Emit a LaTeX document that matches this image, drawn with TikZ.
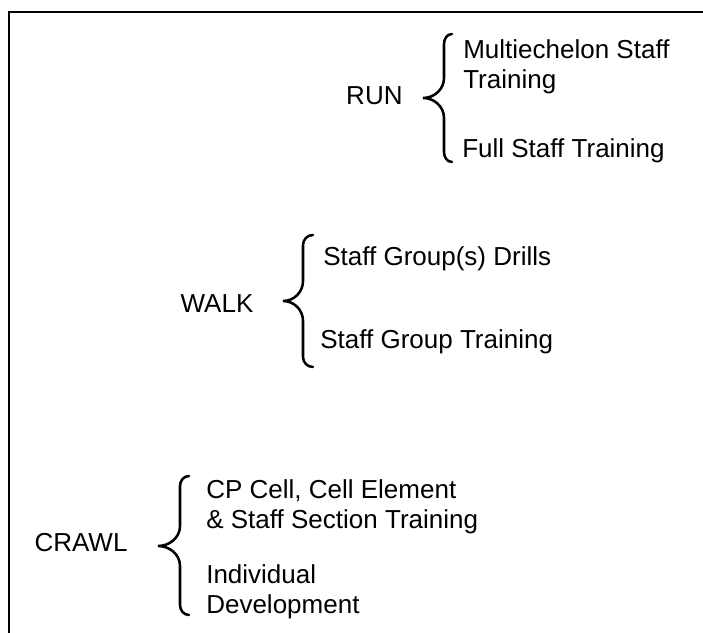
\documentclass[tikz,border=0pt]{standalone}
\usepackage{fontspec}
\setmainfont{Liberation Sans}
\usepackage{tikz}

\tikzset{
    stage/.style={anchor=base, inner sep=0pt},
    item/.style={anchor=north west, align=left, inner sep=0pt},
    curly/.style={line width=1.8pt, line cap=round}
}

\begin{document}
\begin{tikzpicture}[font=\fontsize{18.5}{21.3}\selectfont]

\useasboundingbox (0,0) rectangle (17.575,15.825);

% Frame (left and top edge only)
\draw[line width=2.1pt] (0.225,0) -- (0.225,15.525) -- (17.575,15.525);

% Stage labels
\node[stage] (run)   at (9.36,13.2)  {RUN};
\node[stage] (walk)  at (5.425,8.0)  {WALK};
\node[stage] (crawl) at (2.025,2.025) {CRAWL};

% Training items
\node[item] (multi) at (11.575,14.85) {Multiechelon Staff\\Training};
\node[item] (full)  at (11.55,12.375) {Full Staff Training};
\node[item] (drill) at (8.075,9.675)  {Staff Group(s) Drills};
\node[item] (group) at (8.0,7.6)      {Staff Group Training};
\node[item] (cell)  at (5.15,3.85)    {CP Cell, Cell Element\\\& Staff Section Training};
\node[item] (indiv) at (5.15,1.725)   {Individual\\Development};

% Braces: vertical x / end x / tip x / top / bottom / middle
\foreach \vx/\ex/\tx/\top/\bot/\mid in {11.1/11.3/10.575/14.975/11.775/13.375,
                                         7.575/7.825/7.075/9.95/6.65/8.3,
                                         4.5/4.725/3.95/3.925/0.45/2.175}
    \draw[curly] (\ex,\top) to[out=180,in=90] (\vx,\top-0.25)
        -- (\vx,\mid+0.5) to[out=-90,in=0] (\tx,\mid)
        to[out=0,in=90] (\vx,\mid-0.5)
        -- (\vx,\bot+0.25) to[out=-90,in=180] (\ex,\bot);

\end{tikzpicture}
\end{document}
